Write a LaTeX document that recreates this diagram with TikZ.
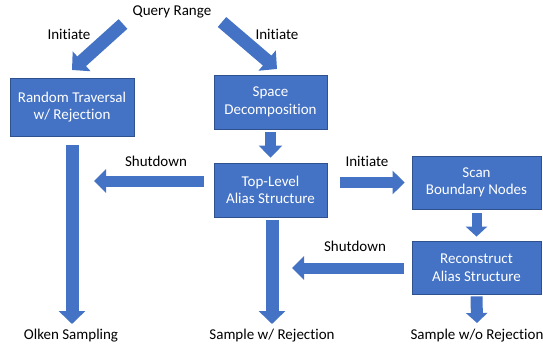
\documentclass[tikz,border=0pt]{standalone}
\usepackage{fontspec}
\setmainfont[Ligatures=NoCommon]{Carlito}
\usetikzlibrary{arrows.meta,calc}
\definecolor{boxblue}{HTML}{4472C4}
\definecolor{edgeblue}{HTML}{2F528F}
\begin{document}
\begin{tikzpicture}[x=1pt,y=-1pt,
  font=\fontsize{15}{17.5}\selectfont,
  box/.style={draw=edgeblue,line width=0.8pt,fill=boxblue,text=white,align=center,inner sep=0pt},
  lbl/.style={text=black,inner sep=1pt},
  barrow/.style={draw=boxblue,line width=13pt,-{Triangle[width=26pt,length=13pt]}},
  marrow/.style={draw=boxblue,line width=11pt,-{Triangle[width=23pt,length=12pt]}},
  sarrow/.style={draw=boxblue,line width=10pt,-{Triangle[width=21pt,length=10pt]}}
]
\useasboundingbox (0,0) rectangle (543,350);
\node[lbl] (qr) at (172,12) {Query Range};
\node[box,minimum width=124pt,minimum height=58pt] (rt) at (72,107) {Random Traversal\\w/ Rejection};
\node[box,minimum width=113pt,minimum height=54pt] (sd) at (270.5,102) {Space\\Decomposition};
\node[box,minimum width=113pt,minimum height=54pt] (tl) at (270.5,190) {Top-Level\\Alias Structure};
\node[box,minimum width=129pt,minimum height=53pt] (sb) at (476.5,182.5) {Scan\\Boundary Nodes};
\node[box,minimum width=129pt,minimum height=53pt] (rc) at (476.5,267.5) {Reconstruct\\Alias Structure};
\node[lbl] (ol) at (71,336) {Olken Sampling};
\node[lbl] (swr) at (272,336) {Sample w/ Rejection};
\node[lbl] (swor) at (477,336) {Sample w/o Rejection};
\node[lbl] (i1) at (69,34) {Initiate};
\node[lbl] (i2) at (277,34) {Initiate};
\node[lbl] (s1) at (156,161) {Shutdown};
\node[lbl] (i3) at (367,161) {Initiate};
\node[lbl] (s2) at (355,246) {Shutdown};
% free ends
\coordinate (q1) at (123,24);
\coordinate (q1t) at (72,70);
\coordinate (q2) at (222,22);
\coordinate (q2t) at (277,69);
\coordinate (olt) at (72,324);
\coordinate (swrt) at (272,324);
\coordinate (tls) at (272,217);
\coordinate (tlw) at (214,181);
\coordinate (s1t) at (94,181);
\coordinate (rct) at (292,268);
\coordinate (rcw) at (412,268);
\coordinate (swort) at (477,323);
% arrows
\draw[barrow] (q1) -- (q1t);
\draw[barrow] (q2) -- (q2t);
\draw[barrow,shorten <=9pt] (rt.south) -- (olt);
\draw[marrow,shorten <=3pt,shorten >=5pt] (sd.south) -- (tl.north);
\draw[barrow,shorten <=3pt] (tls) -- (swrt);
\draw[marrow,shorten <=10pt] (tlw) -- (s1t);
\draw[marrow,shorten <=13pt,shorten >=7pt] (tl.east |- sb.west) -- (sb.west);
\draw[sarrow,shorten <=4pt,shorten >=4pt] (sb.south) -- (rc.north);
\draw[marrow,shorten <=8pt] (rcw) -- (rct);
\draw[sarrow,line width=12pt,shorten <=2pt] (rc.south) -- (swort);
\end{tikzpicture}
\end{document}
